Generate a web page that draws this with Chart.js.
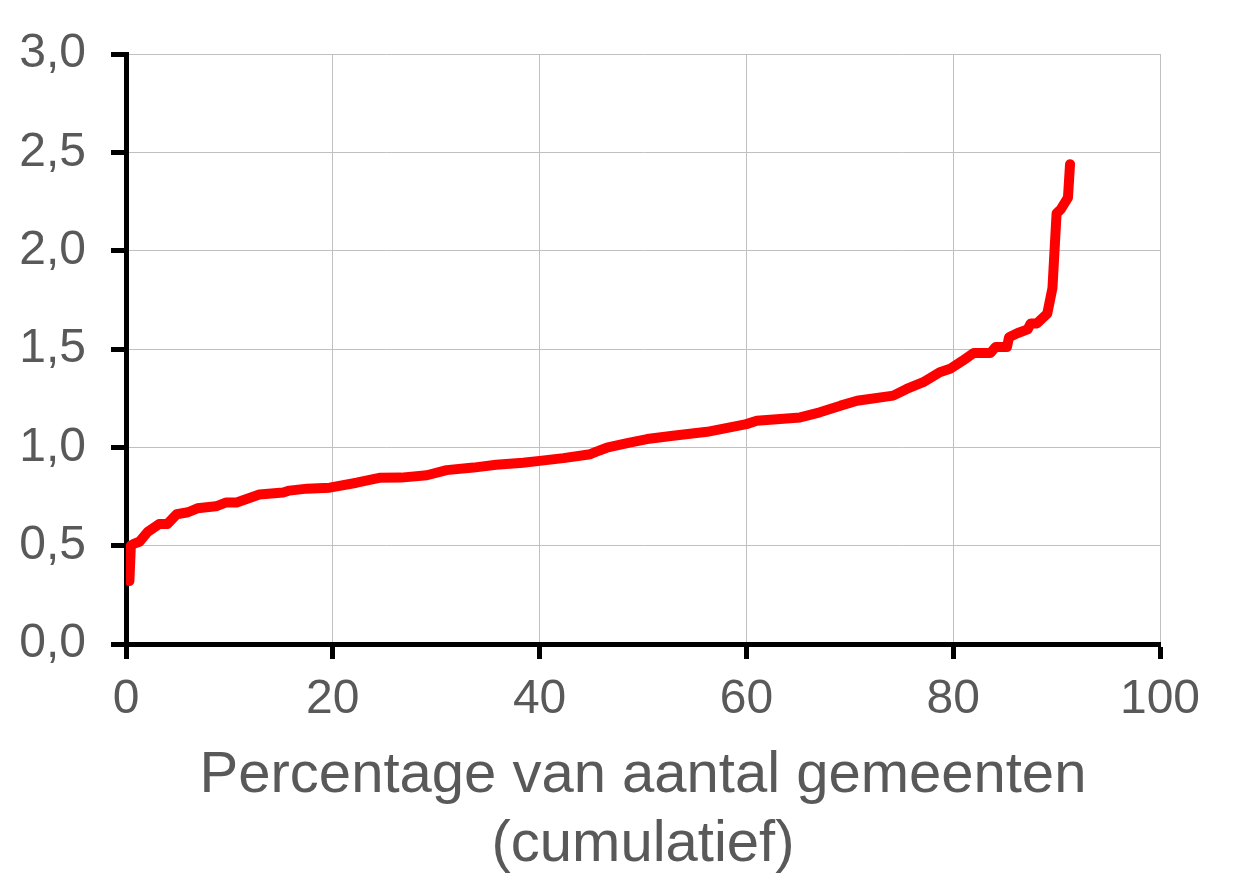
<!DOCTYPE html>
<html>
<head>
<meta charset="utf-8">
<script src="https://cdn.jsdelivr.net/npm/chart.js@4.4.1/dist/chart.umd.min.js"></script>
<style>
  html, body { margin: 0; padding: 0; background: #ffffff; }
  #wrap { width: 1251px; height: 885px; }
</style>
</head>
<body>
<div id="wrap"><canvas id="c" width="1251" height="885"></canvas></div>
<script>
// Cumulative percentage of municipalities (x) vs ratio (y)
const xValues = [0.33, 0.47, 0.8, 1.3, 2.1, 3.2, 4.0, 4.9, 6.0, 6.9, 8.7, 9.7, 10.7, 12.9, 15.2, 15.8, 17.5, 19.7,
  22.3, 24.5, 26.6, 29.1, 31.0, 33.6, 35.8, 38.4, 40.0, 42.3, 44.9, 45.5, 46.5, 48.7, 50.4, 52.9, 56.2,
  60.0, 61.0, 65.2, 67.1, 69.1, 70.7, 74.2, 75.5, 77.1, 78.7, 79.7, 80.9, 82.0, 83.6, 84.1, 85.2, 85.4,
  86.2, 87.2, 87.5, 88.1, 89.1, 89.6, 90.0, 90.4, 91.1, 91.3];
const yValues = [0.32, 0.50, 0.51, 0.52, 0.57, 0.61, 0.61, 0.66, 0.67, 0.69, 0.70, 0.72, 0.72, 0.76, 0.77, 0.78, 0.79, 0.795,
  0.82, 0.845, 0.846, 0.858, 0.884, 0.897, 0.911, 0.922, 0.931, 0.945, 0.965, 0.978, 0.998, 1.024, 1.042, 1.059, 1.079,
  1.118, 1.135, 1.152, 1.178, 1.212, 1.237, 1.263, 1.297, 1.331, 1.382, 1.399, 1.44, 1.48, 1.48, 1.51, 1.51, 1.56,
  1.58, 1.60, 1.63, 1.63, 1.68, 1.81, 2.19, 2.21, 2.27, 2.44];
const xTickValues = [0, 20, 40, 60, 80, 100];
const yTickValues = [0, 0.5, 1.0, 1.5, 2.0, 2.5, 3.0];
const xTitleLines = ['Percentage van aantal gemeenten', '(cumulatief)'];

const points = xValues.map((x, i) => ({ x: x, y: yValues[i] }));
const FONT = '"Liberation Sans", Arial, Helvetica, sans-serif';
const TXT = '#595959';

new Chart(document.getElementById('c'), {
  type: 'scatter',
  data: {
    datasets: [{
      data: points,
      showLine: true,
      borderColor: '#ff0000',
      backgroundColor: '#ff0000',
      borderWidth: 10,
      pointRadius: 0,
      tension: 0,
      borderCapStyle: 'round',
      borderJoinStyle: 'round'
    }]
  },
  options: {
    responsive: false,
    animation: false,
    devicePixelRatio: 1,
    layout: { padding: { top: 54, right: 91, left: 0, bottom: 0 } },
    plugins: { legend: { display: false }, tooltip: { enabled: false } },
    scales: {
      x: {
        type: 'linear',
        min: 0, max: 100,
        afterBuildTicks: s => { s.ticks = xTickValues.map(v => ({ value: v })); },
        afterFit: s => { s.height = 241; },
        grid: { color: '#c0c0c0', lineWidth: 1, tickColor: '#000000', tickWidth: 5, tickLength: 15 },
        border: { color: '#000000', width: 5 },
        ticks: { color: TXT, font: { family: FONT, size: 48 }, padding: 12, maxRotation: 0, autoSkip: false },
        title: {
          display: true,
          text: xTitleLines,
          color: TXT,
          font: { family: FONT, size: 58, lineHeight: 1.2 },
          padding: { top: 0, bottom: 5 }
        }
      },
      y: {
        type: 'linear',
        min: 0, max: 3,
        afterBuildTicks: s => { s.ticks = yTickValues.map(v => ({ value: v })); },
        afterFit: s => { s.width = 126; },
        grid: { color: '#c0c0c0', lineWidth: 1, tickColor: '#000000', tickWidth: 5, tickLength: 15 },
        border: { color: '#000000', width: 5 },
        ticks: {
          color: TXT, font: { family: FONT, size: 48 }, padding: 25,
          callback: v => Number(v).toFixed(1).replace('.', ',')
        }
      }
    }
  }
});
</script>
</body>
</html>
